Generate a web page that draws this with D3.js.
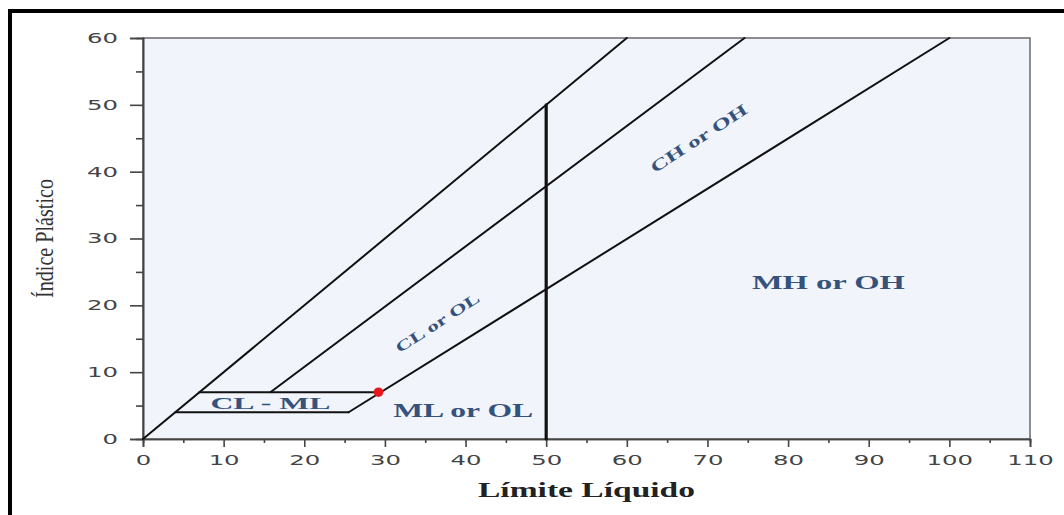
<!DOCTYPE html>
<html>
<head>
<meta charset="utf-8">
<script src="https://cdn.jsdelivr.net/npm/d3@7"></script>
<style>
  html, body { margin: 0; padding: 0; background: #fff; }
  svg { display: block; }
</style>
</head>
<body>
<svg id="chart" width="1064" height="515"></svg>
<script>
// Plasticity chart: liquid limit (x) vs plasticity index (y)
const ticksX = [0, 10, 20, 30, 40, 50, 60, 70, 80, 90, 100, 110];
const ticksY = [0, 10, 20, 30, 40, 50, 60];
const minorX = [5, 15, 25, 35, 45, 55, 65, 75, 85, 95, 105];
const minorY = [5, 15, 25, 35, 45, 55];

// Boundary lines, as [LL, PI] points
const upperLine = [[0, 0], [60, 60]];
const uLine = [[15.8, 7], [74.6, 60]];
const aLine = [[25.5, 4], [100, 60]];
const llDivider = [[50, 0], [50, 50]];
const clmlTop = [[7, 7], [29.3, 7]];
const clmlBottom = [[4, 4], [25.5, 4]];

// Sample point
const sampleLL = [29.2];
const samplePI = [7];

// Zone names
const zoneNames = ["CL - ML", "ML or OL", "CL or OL", "CH or OH", "MH or OH"];

const xTitle = "Límite Líquido";
const yTitle = "Índice Plástico";

const svg = d3.select("#chart");
const x = d3.scaleLinear().domain([0, 110]).range([143, 1030]);
const y = d3.scaleLinear().domain([0, 60]).range([439, 38]);

// outer frame
svg.append("path")
  .attr("d", "M10,520 L10,11 L1066,11")
  .attr("fill", "none").attr("stroke", "#000").attr("stroke-width", 4);

// plot background and frame
svg.append("rect")
  .attr("x", x(0)).attr("y", y(60))
  .attr("width", x(110) - x(0)).attr("height", y(0) - y(60))
  .attr("fill", "#f1f4fa")
  .attr("stroke", "#6a6a6a").attr("stroke-width", 1.5);

// axes
const fmtLabel = sel => sel.selectAll("text")
  .attr("font-family", "DejaVu Sans, sans-serif")
  .attr("font-size", 14)
  .attr("fill", "#444")
  .attr("lengthAdjust", "spacingAndGlyphs")
  .attr("textLength", d => String(d).length * 15.5);

const gx = svg.append("g").attr("transform", `translate(0,${y(0)})`)
  .call(d3.axisBottom(x).tickValues(ticksX).tickSize(8).tickPadding(8));
gx.call(fmtLabel);
svg.append("g").attr("transform", `translate(0,${y(0)})`)
  .call(d3.axisBottom(x).tickValues(minorX).tickSize(4).tickFormat(""));

const gy = svg.append("g").attr("transform", `translate(${x(0)},0)`)
  .call(d3.axisLeft(y).tickValues(ticksY).tickSize(13).tickPadding(12));
gy.call(fmtLabel);
svg.append("g").attr("transform", `translate(${x(0)},0)`)
  .call(d3.axisLeft(y).tickValues(minorY).tickSize(7).tickFormat(""));

svg.selectAll(".domain").attr("stroke", "#444").attr("stroke-width", 1.6);
svg.selectAll(".tick line").attr("stroke", "#444").attr("stroke-width", 1.6);

// boundary lines
const line = d3.line().x(d => x(d[0])).y(d => y(d[1]));
const lines = svg.append("g").attr("fill", "none").attr("stroke", "#111")
  .attr("stroke-linecap", "round").attr("stroke-linejoin", "round");
[upperLine, uLine, aLine, clmlTop, clmlBottom].forEach(pts => {
  lines.append("path").attr("d", line(pts)).attr("stroke-width", 2);
});
lines.append("path").attr("d", line(llDivider)).attr("stroke-width", 3.2);

// sample point
svg.append("g").selectAll("circle")
  .data(sampleLL.map((v, i) => [v, samplePI[i]]))
  .join("circle")
  .attr("cx", d => x(d[0])).attr("cy", d => y(d[1]))
  .attr("r", 4.8).attr("fill", "#e8161b");

// zone labels
const zoneLayout = [
  { ll: 15.8, pi: 4.5, rot: 0, size: 17, len: 120 },
  { ll: 39.7, pi: 3.3, rot: 0, size: 19, len: 140 },
  { ll: 36.5, pi: 17.4, rot: -33, size: 15, len: 97 },
  { ll: 68.9, pi: 45.0, rot: -33, size: 16, len: 112 },
  { ll: 85.0, pi: 22.5, rot: 0, size: 18, len: 153 }
];
svg.append("g").selectAll("text")
  .data(zoneNames)
  .join("text")
  .attr("transform", (d, i) => {
    const L = zoneLayout[i];
    return `translate(${x(L.ll)},${y(L.pi)}) rotate(${L.rot})`;
  })
  .attr("text-anchor", "middle")
  .attr("dy", (d, i) => zoneLayout[i].rot ? "0.35em" : 0)
  .attr("font-family", "Liberation Serif, Times New Roman, serif")
  .attr("font-weight", "bold")
  .attr("font-size", (d, i) => zoneLayout[i].size)
  .attr("textLength", (d, i) => zoneLayout[i].len)
  .attr("lengthAdjust", "spacingAndGlyphs")
  .attr("fill", "#34527c")
  .text(d => d);

// axis titles
svg.append("text")
  .attr("x", (x(0) + x(110)) / 2).attr("y", 497)
  .attr("text-anchor", "middle")
  .attr("font-family", "Liberation Serif, Times New Roman, serif")
  .attr("font-weight", "bold").attr("font-size", 22)
  .attr("textLength", 217).attr("lengthAdjust", "spacingAndGlyphs")
  .attr("fill", "#222")
  .text(xTitle);

svg.append("text")
  .attr("transform", `translate(53,${(y(0) + y(60)) / 2}) rotate(-90)`)
  .attr("text-anchor", "middle")
  .attr("font-family", "Liberation Serif, Times New Roman, serif")
  .attr("font-size", 25)
  .attr("textLength", 119).attr("lengthAdjust", "spacingAndGlyphs")
  .attr("fill", "#333")
  .text(yTitle);
</script>
</body>
</html>
